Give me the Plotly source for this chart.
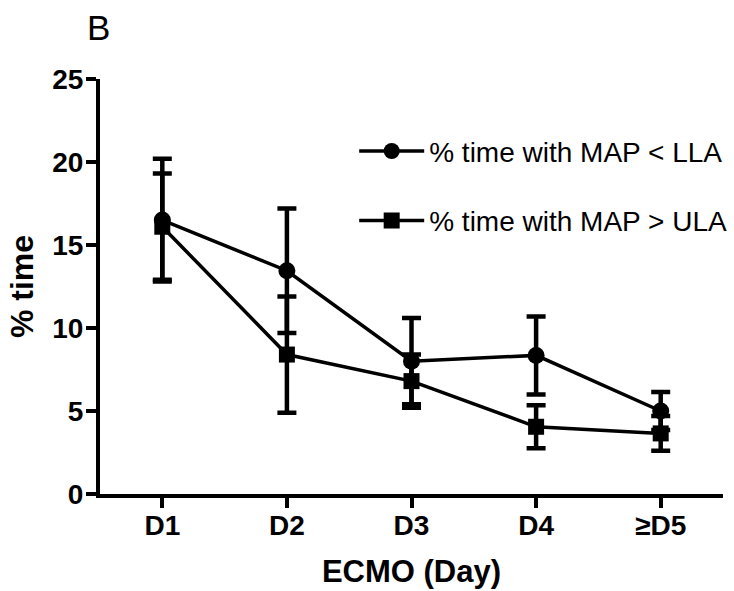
import plotly.graph_objects as go

days = ["D1", "D2", "D3", "D4", "≥D5"]
lla_mean = [16.5, 13.45, 8.0, 8.35, 5.0]
lla_err = [3.7, 3.75, 2.6, 2.35, 1.15]
ula_mean = [16.1, 8.4, 6.8, 4.05, 3.65]
ula_err = [3.2, 3.5, 1.6, 1.3, 1.05]
y_ticks = [0, 5, 10, 15, 20, 25]

FONT = "Arial, Liberation Sans, sans-serif"
x_idx = list(range(len(days)))

fig = go.Figure()
fig.add_trace(go.Scatter(
    x=x_idx, y=lla_mean, name="% time with MAP < LLA", mode="lines+markers",
    line=dict(color="black", width=3.5),
    marker=dict(symbol="circle", size=17, color="black"),
    error_y=dict(type="data", array=lla_err, visible=True, color="black", thickness=4.5, width=9.5),
    legendgroup="a",
))
fig.add_trace(go.Scatter(
    x=x_idx, y=ula_mean, name="% time with MAP > ULA", mode="lines+markers",
    line=dict(color="black", width=3.5),
    marker=dict(symbol="square", size=16, color="black"),
    error_y=dict(type="data", array=ula_err, visible=True, color="black", thickness=4.5, width=9.5),
    legendgroup="b",
))

fig.update_layout(
    width=734, height=591,
    margin=dict(l=100, r=11, t=79, b=97, autoexpand=False),
    paper_bgcolor="white", plot_bgcolor="white",
    font=dict(family=FONT, color="black"),
    showlegend=True,
    legend=dict(x=0.408, y=0.886, xanchor="left", yanchor="top",
                font=dict(size=28, family=FONT, color="black"),
                bgcolor="rgba(0,0,0,0)", tracegroupgap=30, itemwidth=65),
    annotations=[dict(text="B", xref="paper", yref="paper", x=-0.003, y=1.175,
                      showarrow=False, font=dict(size=35, family=FONT, color="black"),
                      xanchor="center", yanchor="top")],
)
fig.update_xaxes(
    range=[-0.5, 4.5], tickmode="array", tickvals=x_idx, ticktext=days,
    showline=True, linecolor="black", linewidth=4,
    ticks="outside", ticklen=10, tickwidth=4, tickcolor="black",
    tickfont=dict(size=28, family=FONT, color="black", weight="bold"),
    ticklabelstandoff=-7,
    showgrid=False, zeroline=False, automargin=False,
    title=dict(text="<b>ECMO (Day)</b>", font=dict(size=31, family=FONT, color="black"), standoff=22),
)
fig.update_yaxes(
    range=[0, 25], tickmode="array", tickvals=y_ticks,
    showline=True, linecolor="black", linewidth=4,
    ticks="outside", ticklen=10, tickwidth=4, tickcolor="black",
    tickfont=dict(size=28, family=FONT, color="black", weight="bold"),
    ticklabelstandoff=-3,
    showgrid=False, zeroline=False, automargin=False,
    title=dict(text="<b>% time</b>", font=dict(size=32, family=FONT, color="black"), standoff=10),
)

fig.write_html("out.html",
               config={"displayModeBar": False},
               post_script="document.body.style.margin='0';document.body.style.overflow='hidden';")
